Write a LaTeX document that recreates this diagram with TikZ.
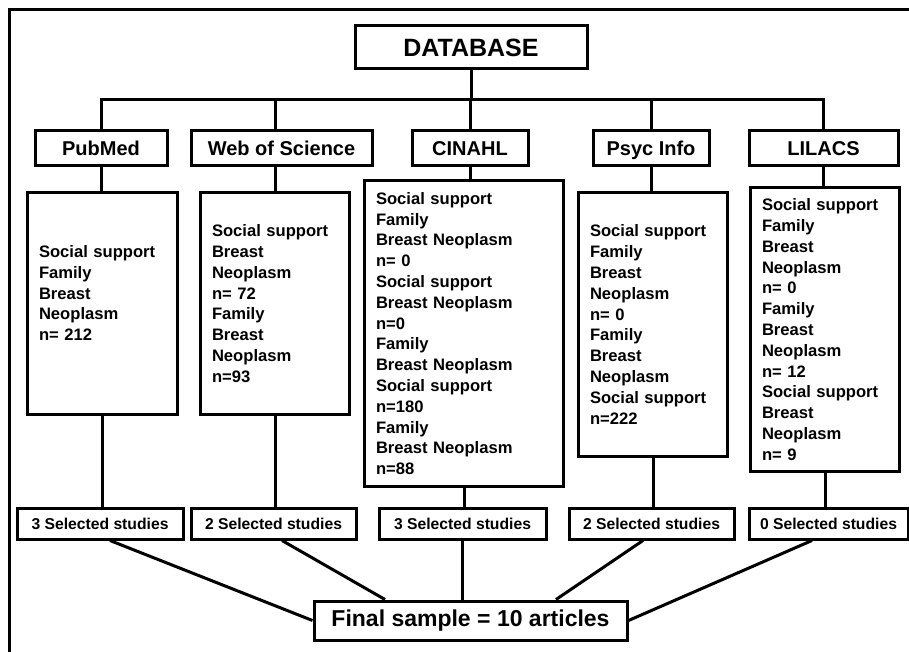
\documentclass[tikz,border=0pt]{standalone}
\usepackage{fontspec}
\setsansfont{Liberation Sans}
\usetikzlibrary{calc}

\begin{document}
\begin{tikzpicture}[
  x=1pt, y=-1pt,
  font=\sffamily\bfseries,
  db/.style={draw, line width=3pt, fill=white, inner sep=0pt},
  source/.style={db, font=\sffamily\bfseries\fontsize{20}{24}\selectfont, minimum height=35pt,
    text height=14.5pt, text depth=0pt},
  search/.style={db, anchor=north west, align=left, inner xsep=11.5pt, inner ysep=4pt,
    font=\sffamily\bfseries\fontsize{16.6}{20.8}\selectfont},
  selected/.style={db, font=\sffamily\bfseries\fontsize{15.7}{19}\selectfont, minimum height=31pt,
    text height=11.5pt, text depth=0pt},
  flow/.style={line width=3pt},
  every node/.style={align=center}]

\useasboundingbox (0,0) rectangle (909,652);
\draw[flow] (9,652) -- (9,10) -- (909,10);

% Position the nodes at their places in the figure
\node[db, font=\sffamily\bfseries\fontsize{25}{30}\selectfont, minimum width=232pt, minimum height=43pt]
  (database) at (471,47.5) {DATABASE};

\node[source, minimum width=132pt] (pubMed) at (101,148.5) {PubMed};
\node[source, minimum width=181pt] (webOfScience) at (281.5,148.5) {Web of Science};
\node[source, minimum width=116pt] (cinahl) at (470,148.5) {CINAHL};
\node[source, minimum width=116pt] (psycInfo) at (651,148.5) {Psyc Info};
\node[source, minimum width=149pt] (lilacs) at (823.5,148.5) {LILACS};

\node[search, text width=127pt, minimum height=222pt] (pubMedSearch) at (26,191)
  {Social support\\Family\\Breast\\Neoplasm\\n= 212\\~};
\node[search, text width=126pt, minimum height=222pt] (webOfScienceSearch) at (199,191)
  {Social support\\Breast\\Neoplasm\\n= 72\\Family\\Breast\\Neoplasm\\n=93};
\node[search, text width=176pt, minimum height=306pt] (cinahlSearch) at (363,179)
  {Social support\\Family\\Breast Neoplasm\\n= 0\\Social support\\Breast Neoplasm\\n=0\\Family\\
   Breast Neoplasm\\Social support\\n=180\\Family\\Breast Neoplasm\\n=88};
\node[search, text width=126pt, minimum height=264pt] (psycInfoSearch) at (577,191)
  {Social support\\Family\\Breast\\Neoplasm\\n= 0\\Family\\Breast\\Neoplasm\\Social support\\n=222};
\node[search, text width=126pt, minimum height=284pt] (lilacsSearch) at (749,186)
  {Social support\\Family\\Breast\\Neoplasm\\n= 0\\Family\\Breast\\Neoplasm\\n= 12\\Social support\\
   Breast\\Neoplasm\\n= 9};

\node[selected, minimum width=166pt] (pubMedSelected) at (100,523.5) {3 Selected studies};
\node[selected, minimum width=165pt] (webOfScienceSelected) at (273.5,523.5) {2 Selected studies};
\node[selected, minimum width=167pt] (cinahlSelected) at (462.5,523.5) {3 Selected studies};
\node[selected, minimum width=165pt] (psycInfoSelected) at (651.5,523.5) {2 Selected studies};
\node[selected, minimum width=159pt] (lilacsSelected) at (828.5,523.5) {0 Selected studies};

\node[db, font=\sffamily\bfseries\fontsize{23}{28}\selectfont, minimum width=313pt, minimum height=39pt]
  (finalSample) at (470.5,620.5) {Final sample = 10 articles};

% Draw the lines from the database down to the studies
\coordinate (bus) at (0,100);
\draw[flow] (database.south) -- (database.south |- bus);
\draw[flow] (pubMed.north) -- (pubMed.north |- bus) -- (lilacs.north |- bus) -- (lilacs.north);
\foreach \db/\drop in {pubMed/pubMed, webOfScience/webOfScienceSearch, cinahl/cinahl,
                       psycInfo/psycInfo, lilacs/lilacs} {
  \draw[flow] (\drop.north |- bus) -- (\drop.north |- \db.north);
  \draw[flow] (\drop.north |- \db.south) -- (\drop.north |- \db Search.north);
  \draw[flow] (\db Search.south) -- (\db Search.south |- \db Selected.north);
}

% Join the selected studies to the final sample
\draw[flow] ($(pubMedSelected.south)+(10,0)$) -- (finalSample.west);
\draw[flow] ($(webOfScienceSelected.south)+(8.5,0)$) -- ($(finalSample.north)+(-85.5,0)$);
\draw[flow] (cinahlSelected.south) -- (finalSample.north -| cinahlSelected.south);
\draw[flow] ($(psycInfoSelected.south)+(-8.5,0)$) -- ($(finalSample.north)+(85.5,0)$);
\draw[flow] ($(lilacsSelected.south)+(-16.5,0)$) -- (finalSample.east);
\end{tikzpicture}
\end{document}
